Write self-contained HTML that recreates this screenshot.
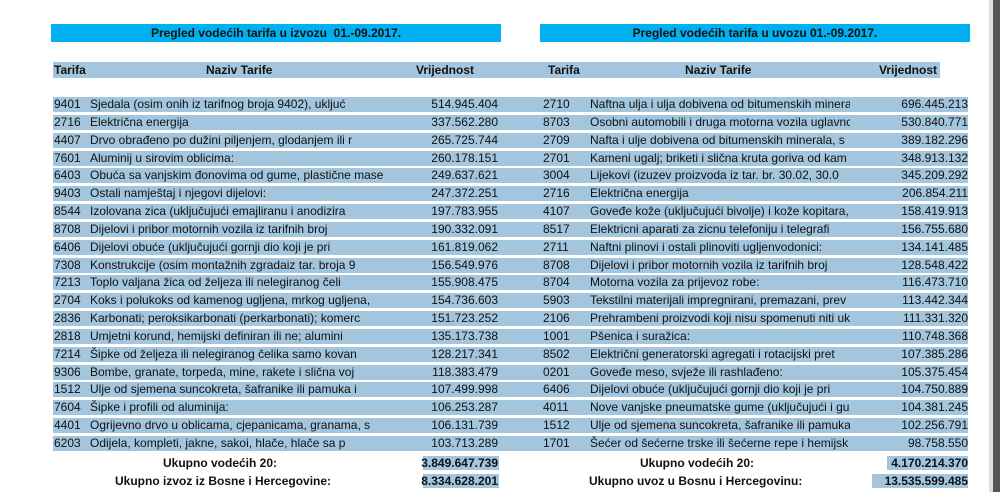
<!DOCTYPE html>
<html><head><meta charset="utf-8"><style>
body{margin:0;width:1000px;height:492px;background:#fff;position:relative;overflow:hidden;font-family:"Liberation Sans",Arial,sans-serif;color:#111}
.a{position:absolute;white-space:nowrap}
.t{background:#00b0f0;height:18px;top:24px;font-weight:bold;font-size:12px;line-height:18px;text-align:center}
.bar{position:absolute;background:#a3c6de;height:15px}
.r{font-size:12px;line-height:15px}
.rt{text-align:right}
.b{font-weight:bold}
</style></head><body>
<div class="a t" style="left:51px;width:450px">Pregled vodećih tarifa u izvozu&nbsp; 01.-09.2017.</div>
<div class="a t" style="left:540px;width:430px">Pregled vodećih tarifa u uvozu 01.-09.2017.</div>
<div class="bar" style="left:53px;width:887px;top:62px;height:16px"></div>
<div class="a r b" style="left:54px;top:63px">Tarifa</div>
<div class="a r b" style="left:206px;top:63px">Naziv Tarife</div>
<div class="a r b" style="left:416px;top:63px">Vrijednost</div>
<div class="a r b" style="left:548px;top:63px">Tarifa</div>
<div class="a r b" style="left:685px;top:63px">Naziv Tarife</div>
<div class="a r b" style="left:879px;top:63px">Vrijednost</div>
<div class="a" style="left:993px;top:0;width:7px;height:492px;background:#555"></div>
<div class="a" style="left:989px;top:0;width:4px;height:492px;background:#ddd"></div>
<div id="rows"></div>
<script>
var L=[["9401","Sjedala (osim onih iz tarifnog broja 9402), ukljuć","514.945.404"],["2716","Električna energija","337.562.280"],["4407","Drvo obrađeno po dužini piljenjem, glodanjem ili r","265.725.744"],["7601","Aluminij u sirovim oblicima:","260.178.151"],["6403","Obuća sa vanjskim đonovima od gume, plastične mase","249.637.621"],["9403","Ostali namještaj i njegovi dijelovi:","247.372.251"],["8544","Izolovana zica (uključujući emajliranu i anodizira","197.783.955"],["8708","Dijelovi i pribor motornih vozila iz tarifnih broj","190.332.091"],["6406","Dijelovi obuće (uključujući gornji dio koji je pri","161.819.062"],["7308","Konstrukcije (osim montažnih zgradaiz tar. broja 9","156.549.976"],["7213","Toplo valjana žica od željeza ili nelegiranog čeli","155.908.475"],["2704","Koks i polukoks od kamenog uglјena, mrkog ugljena,","154.736.603"],["2836","Karbonati; peroksikarbonati (perkarbonati); komerc","151.723.252"],["2818","Umjetni korund, hemijski definiran ili ne; alumini","135.173.738"],["7214","Šipke od željeza ili nelegiranog čelika samo kovan","128.217.341"],["9306","Bombe, granate, torpeda, mine, rakete i slična voj","118.383.479"],["1512","Ulje od sjemena suncokreta, šafranike ili pamuka i","107.499.998"],["7604","Šipke i profili od aluminija:","106.253.287"],["4401","Ogrijevno drvo u oblicama, cjepanicama, granama, s","106.131.739"],["6203","Odijela, kompleti, jakne, sakoi, hlače, hlače sa p","103.713.289"]];
var R=[["2710","Naftna ulja i ulja dobivena od bitumenskih minera","696.445.213"],["8703","Osobni automobili i druga motorna vozila uglavnc","530.840.771"],["2709","Nafta i ulje dobivena od bitumenskih minerala, s","389.182.296"],["2701","Kameni ugalj; briketi i slična kruta goriva od kam","348.913.132"],["3004","Lijekovi (izuzev proizvoda iz tar. br. 30.02, 30.0","345.209.292"],["2716","Električna energija","206.854.211"],["4107","Goveđe kože (uključujući bivolje) i kože kopitara,","158.419.913"],["8517","Elektricni aparati za zicnu telefoniju i telegrafi","156.755.680"],["2711","Naftni plinovi i ostali plinoviti ugljenvodonici:","134.141.485"],["8708","Dijelovi i pribor motornih vozila iz tarifnih broj","128.548.422"],["8704","Motorna vozila za prijevoz robe:","116.473.710"],["5903","Tekstilni materijali impregnirani, premazani, prev","113.442.344"],["2106","Prehrambeni proizvodi koji nisu spomenuti niti uk","111.331.320"],["1001","Pšenica i suražica:","110.748.368"],["8502","Električni generatorski agregati i rotacijski pret","107.385.286"],["0201","Goveđe meso, svježe ili rashlađeno:","105.375.454"],["6406","Dijelovi obuće (uključujući gornji dio koji je pri","104.750.889"],["4011","Nove vanjske pneumatske gume (uključujući i gu","104.381.245"],["1512","Ulje od sjemena suncokreta, šafranike ili pamuka","102.256.791"],["1701","Šećer od šećerne trske ili šećerne repe i hemijsk","98.758.550"]];
var h="";
for(var i=0;i<20;i++){var y=97+i*17.84;
h+='<div class="bar" style="left:53px;width:915px;top:'+y+'px"></div>';
h+='<div class="a r" style="left:54px;top:'+y+'px">'+L[i][0]+'</div>';
h+='<div class="a r" style="left:90px;top:'+y+'px;width:330px;overflow:hidden">'+L[i][1]+'</div>';
h+='<div class="a r rt" style="left:398px;width:100px;top:'+y+'px">'+L[i][2]+'</div>';
h+='<div class="a r" style="left:543px;top:'+y+'px">'+R[i][0]+'</div>';
h+='<div class="a r" style="left:590px;top:'+y+'px;width:260px;overflow:hidden">'+R[i][1]+'</div>';
h+='<div class="a r rt" style="left:868px;width:100px;top:'+y+'px">'+R[i][2]+'</div>';}
document.getElementById("rows").innerHTML=h;
</script>
<div class="bar" style="left:423px;width:76px;top:456px;height:14px"></div>
<div class="bar" style="left:423px;width:76px;top:474px;height:14px"></div>
<div class="bar" style="left:887px;width:81px;top:456px;height:14px"></div>
<div class="bar" style="left:872px;width:96px;top:474px;height:14px"></div>
<div class="a r b" style="left:163px;top:456px">Ukupno vodećih 20:</div>
<div class="a r b" style="left:115px;top:474px">Ukupno izvoz iz Bosne i Hercegovine:</div>
<div class="a r b rt" style="left:378px;width:120px;top:456px">3.849.647.739</div>
<div class="a r b rt" style="left:378px;width:120px;top:474px">8.334.628.201</div>
<div class="a r b" style="left:640px;top:456px">Ukupno vodećih 20:</div>
<div class="a r b" style="left:589px;top:474px">Ukupno uvoz u Bosnu i Hercegovinu:</div>
<div class="a r b rt" style="left:848px;width:120px;top:456px">4.170.214.370</div>
<div class="a r b rt" style="left:848px;width:120px;top:474px">13.535.599.485</div>
</body></html>
